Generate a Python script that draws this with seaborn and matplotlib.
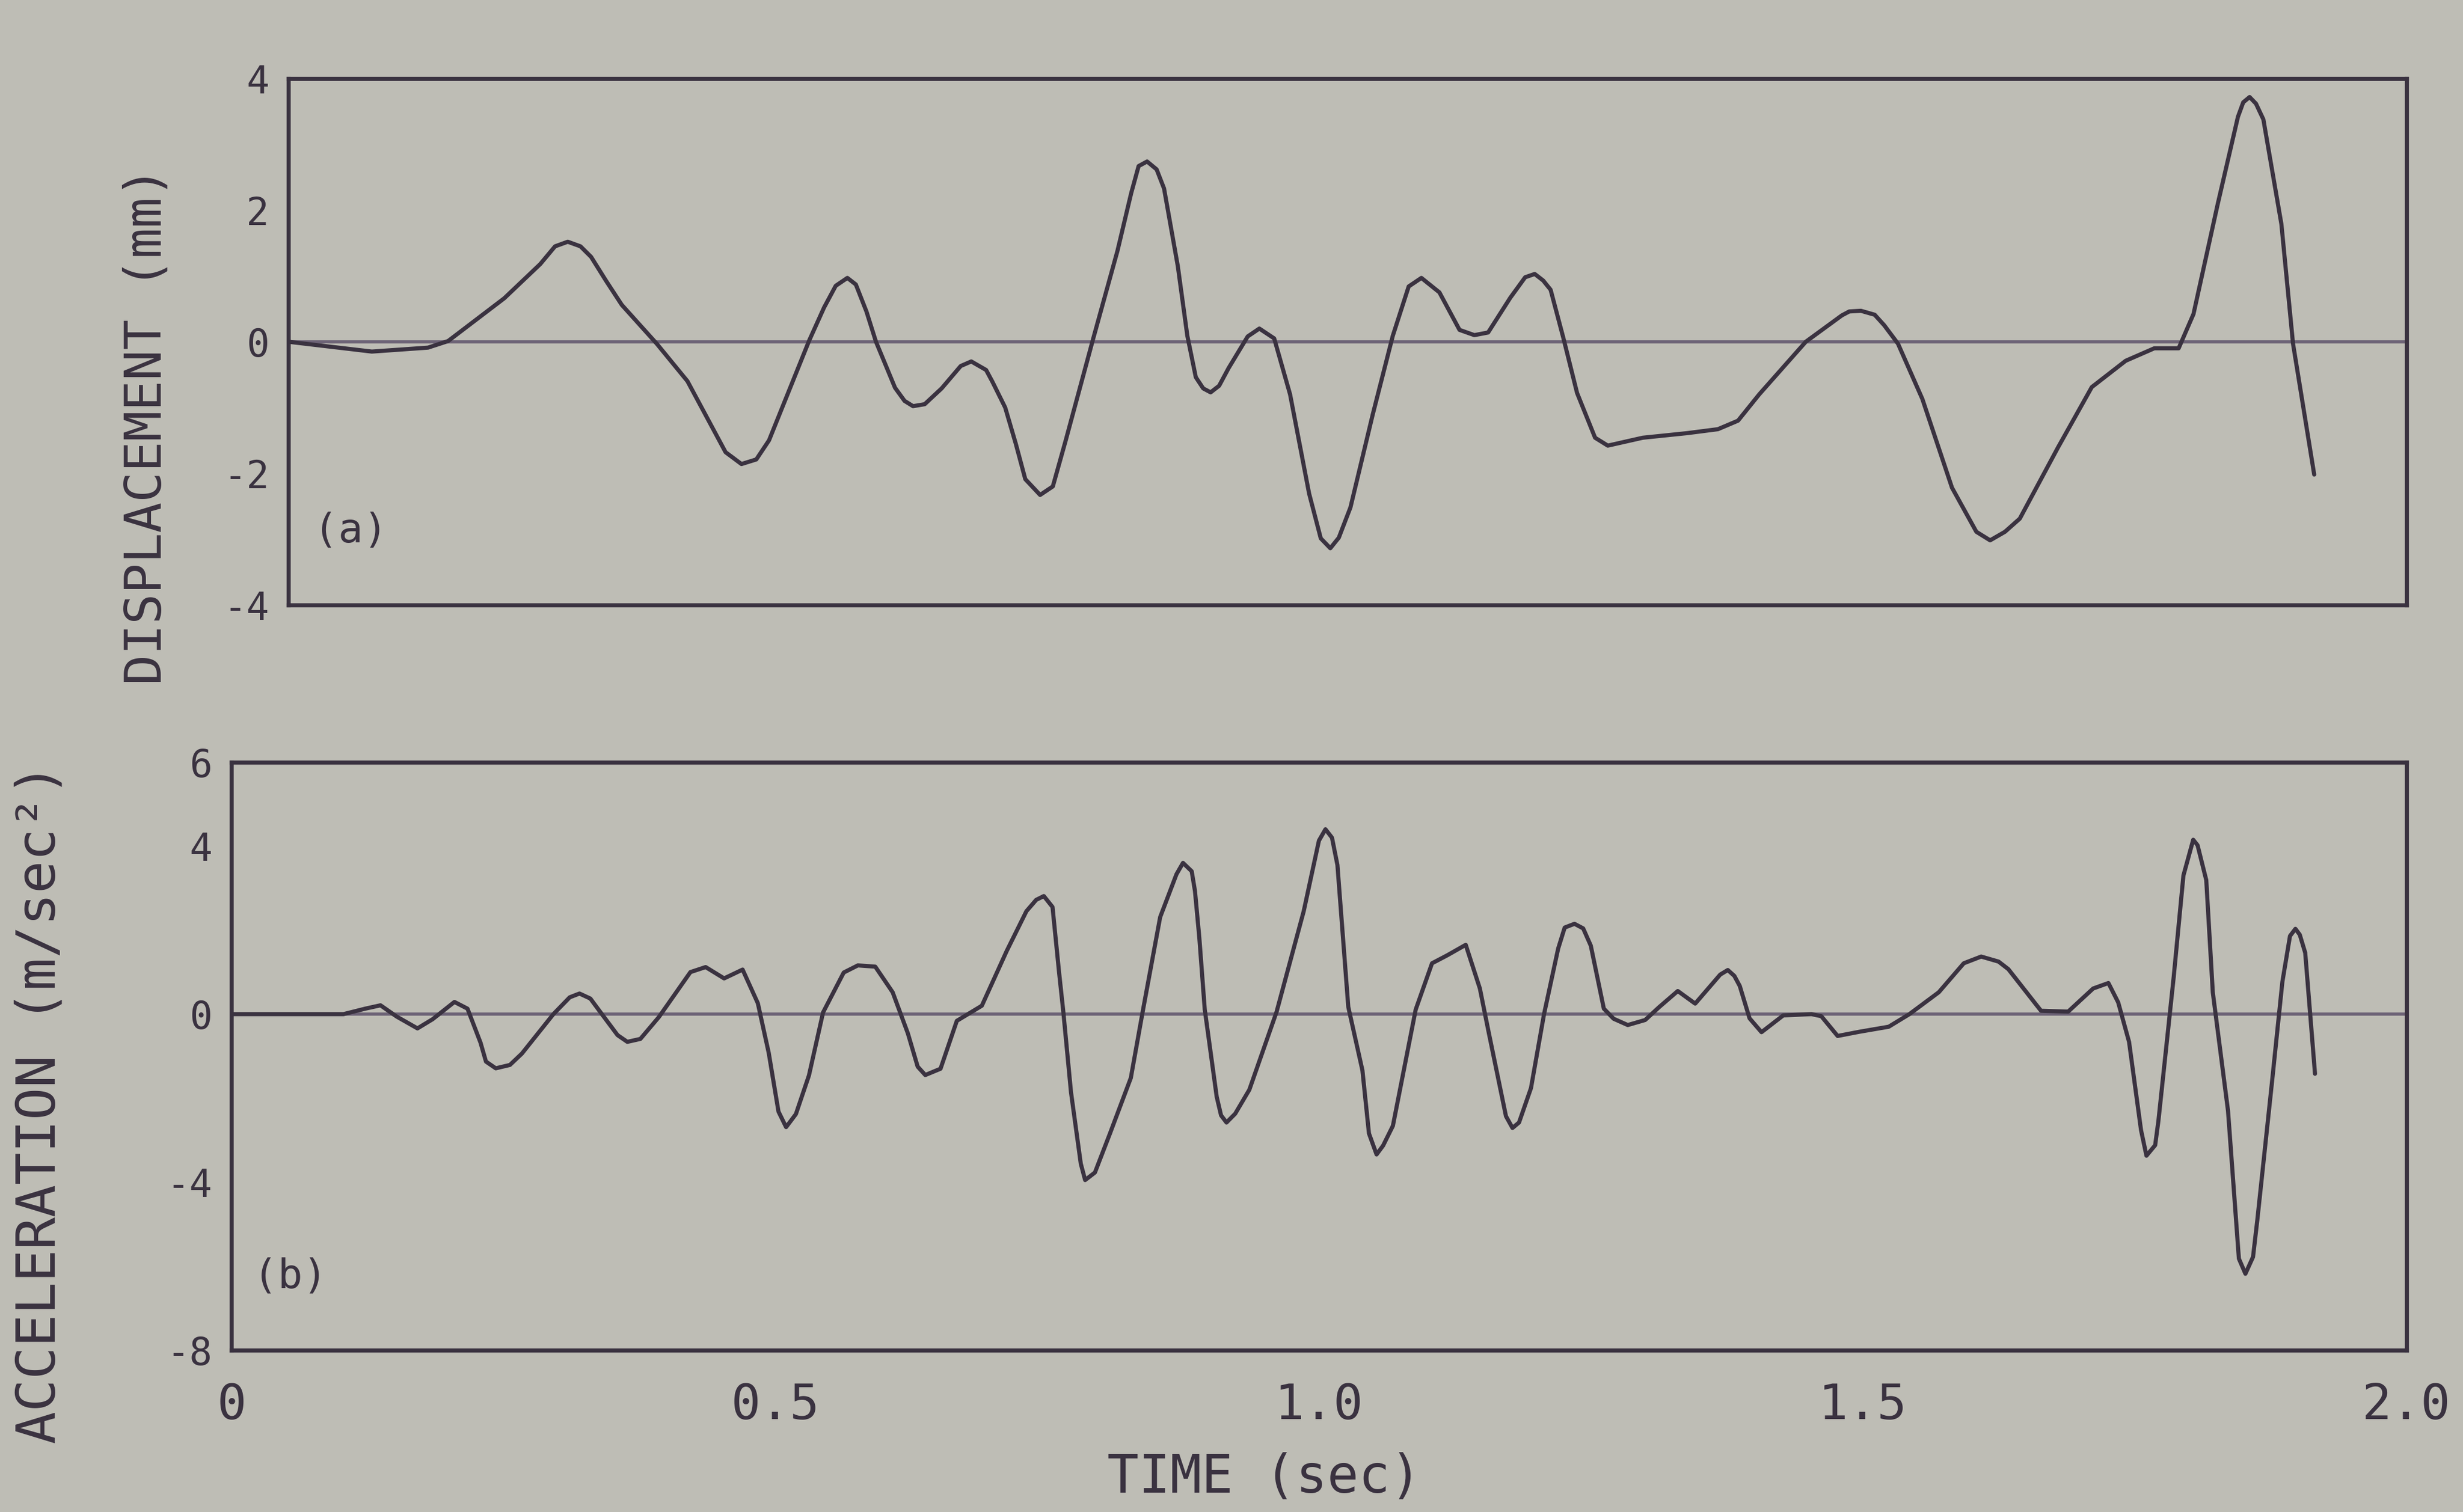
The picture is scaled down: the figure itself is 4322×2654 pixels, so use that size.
import numpy as np
import pandas as pd
import matplotlib
matplotlib.use("Agg")
import matplotlib.pyplot as plt
import seaborn as sns

# displacement trace (a), time in sec, displacement in mm
t_disp = [0.000, 0.079, 0.132, 0.151, 0.204, 0.238, 0.252, 0.264, 0.276, 0.286,
          0.300, 0.315, 0.348, 0.377, 0.401, 0.413, 0.428, 0.442, 0.454, 0.492,
          0.506, 0.517, 0.528, 0.536, 0.546, 0.555, 0.573, 0.582, 0.590, 0.601,
          0.617, 0.635, 0.645, 0.659, 0.665, 0.677, 0.687, 0.696, 0.710, 0.722,
          0.734, 0.760, 0.783, 0.796, 0.803, 0.811, 0.820, 0.827, 0.840, 0.849,
          0.857, 0.864, 0.871, 0.879, 0.888, 0.906, 0.917, 0.931, 0.946, 0.964,
          0.975, 0.984, 0.992, 1.003, 1.024, 1.043, 1.058, 1.070, 1.087, 1.106,
          1.120, 1.133, 1.154, 1.168, 1.177, 1.185, 1.192, 1.204, 1.217, 1.234,
          1.246, 1.279, 1.321, 1.350, 1.369, 1.389, 1.433, 1.467, 1.474, 1.485,
          1.498, 1.507, 1.520, 1.543, 1.571, 1.594, 1.607, 1.621, 1.635, 1.671,
          1.703, 1.735, 1.762, 1.785, 1.799, 1.822, 1.841, 1.846, 1.852, 1.858,
          1.865, 1.882, 1.893, 1.913]
displacement = [0.00, -0.15, -0.09, 0.01, 0.66, 1.18, 1.45, 1.52, 1.45, 1.29,
                0.93, 0.56, -0.03, -0.60, -1.32, -1.68, -1.86, -1.79, -1.50, 0.02,
                0.52, 0.85, 0.97, 0.87, 0.46, 0.00, -0.70, -0.90, -0.98, -0.95,
                -0.71, -0.37, -0.30, -0.43, -0.61, -1.00, -1.55, -2.09, -2.33, -2.20,
                -1.51, 0.04, 1.38, 2.26, 2.67, 2.74, 2.62, 2.33, 1.15, 0.09,
                -0.54, -0.71, -0.77, -0.67, -0.40, 0.08, 0.20, 0.05, -0.80, -2.31,
                -2.99, -3.14, -2.98, -2.52, -1.11, 0.09, 0.84, 0.97, 0.75, 0.18,
                0.10, 0.14, 0.67, 0.98, 1.03, 0.93, 0.79, 0.06, -0.78, -1.46,
                -1.58, -1.46, -1.39, -1.33, -1.20, -0.80, 0.00, 0.40, 0.46, 0.47,
                0.41, 0.25, -0.03, -0.87, -2.22, -2.89, -3.02, -2.89, -2.69, -1.61,
                -0.69, -0.29, -0.10, -0.10, 0.42, 2.10, 3.42, 3.64, 3.72, 3.62,
                3.38, 1.79, -0.03, -2.02]

# acceleration trace (b), time in sec, acceleration in m/sec^2
t_acc = [0.000, 0.103, 0.123, 0.137, 0.152, 0.171, 0.185, 0.205, 0.217, 0.229,
         0.234, 0.243, 0.256, 0.267, 0.296, 0.311, 0.320, 0.330, 0.340, 0.355,
         0.364, 0.376, 0.393, 0.422, 0.436, 0.453, 0.470, 0.484, 0.494, 0.503,
         0.510, 0.519, 0.531, 0.544, 0.563, 0.576, 0.592, 0.608, 0.622, 0.631,
         0.638, 0.652, 0.667, 0.690, 0.713, 0.731, 0.740, 0.747, 0.755, 0.761,
         0.765, 0.772, 0.781, 0.785, 0.794, 0.808, 0.827, 0.838, 0.854, 0.869,
         0.875, 0.883, 0.886, 0.890, 0.895, 0.906, 0.910, 0.915, 0.923, 0.936,
         0.961, 0.986, 1.000, 1.006, 1.012, 1.017, 1.027, 1.040, 1.046, 1.053,
         1.059, 1.068, 1.089, 1.104, 1.118, 1.135, 1.148, 1.156, 1.172, 1.178,
         1.184, 1.195, 1.207, 1.220, 1.226, 1.235, 1.243, 1.250, 1.262, 1.271,
         1.284, 1.300, 1.313, 1.330, 1.346, 1.369, 1.376, 1.382, 1.387, 1.396,
         1.407, 1.427, 1.453, 1.462, 1.477, 1.497, 1.524, 1.543, 1.570, 1.593,
         1.609, 1.625, 1.634, 1.664, 1.689, 1.712, 1.726, 1.735, 1.745, 1.756,
         1.761, 1.769, 1.772, 1.786, 1.795, 1.804, 1.808, 1.816, 1.822, 1.836,
         1.846, 1.852, 1.859, 1.863, 1.877, 1.886, 1.893, 1.898, 1.902, 1.907,
         1.916]
acceleration = [0.00, 0.00, 0.13, 0.21, -0.06, -0.34, -0.12, 0.29, 0.13, -0.68,
                -1.13, -1.29, -1.21, -0.94, 0.00, 0.40, 0.49, 0.37, 0.02, -0.50,
                -0.66, -0.59, -0.07, 1.00, 1.12, 0.85, 1.06, 0.26, -0.92, -2.32,
                -2.69, -2.38, -1.46, 0.04, 0.99, 1.16, 1.13, 0.52, -0.46, -1.25,
                -1.45, -1.30, -0.16, 0.20, 1.51, 2.45, 2.72, 2.81, 2.55, 1.00,
                0.04, -1.86, -3.56, -3.95, -3.77, -2.83, -1.52, 0.07, 2.31, 3.33,
                3.60, 3.40, 2.93, 1.82, 0.11, -1.97, -2.41, -2.58, -2.37, -1.80,
                0.05, 2.45, 4.13, 4.40, 4.20, 3.55, 0.17, -1.34, -2.84, -3.34,
                -3.13, -2.66, 0.11, 1.21, 1.40, 1.65, 0.61, -0.42, -2.43, -2.71,
                -2.58, -1.76, 0.00, 1.56, 2.06, 2.15, 2.04, 1.63, 0.13, -0.11,
                -0.26, -0.14, 0.17, 0.55, 0.25, 0.94, 1.05, 0.91, 0.67, -0.10,
                -0.43, -0.03, 0.00, -0.05, -0.52, -0.42, -0.30, 0.00, 0.52, 1.21,
                1.37, 1.25, 1.07, 0.08, 0.06, 0.61, 0.74, 0.28, -0.66, -2.76,
                -3.37, -3.12, -2.54, 0.87, 3.30, 4.15, 4.02, 3.19, 0.52, -2.30,
                -5.82, -6.18, -5.78, -4.89, -1.48, 0.77, 1.86, 2.03, 1.89, 1.46,
                -1.42]

x_ticks = [0, 0.5, 1.0, 1.5, 2.0]
x_tick_labels = ["0", "0.5", "1.0", "1.5", "2.0"]
disp_ticks = [-4, -2, 0, 2, 4]
disp_tick_labels = ["-4", "-2", "0", "2", "4"]
acc_ticks = [-8, -4, 0, 4, 6]
acc_tick_labels = ["-8", "-4", "0", "4", "6"]

paper = "#bebdb5"
ink = "#3a3240"
zero_ink = "#6c6276"

sns.set_theme(style="white")
plt.rcParams['font.family'] = ['DejaVu Sans Mono', 'DejaVu Sans']
plt.rcParams['text.color'] = ink
plt.rcParams['xtick.color'] = ink
plt.rcParams['ytick.color'] = ink

fig = plt.figure(figsize=(21.61, 13.27), dpi=200, facecolor=paper)
ax1 = fig.add_axes([0.117, 0.600, 0.860, 0.348])
ax2 = fig.add_axes([0.094, 0.107, 0.883, 0.389])

df_a = pd.DataFrame({"time": t_disp, "value": displacement})
df_b = pd.DataFrame({"time": t_acc, "value": acceleration})

for ax, df, ticks, labels, lim in [
    (ax1, df_a, disp_ticks, disp_tick_labels, (-4, 4)),
    (ax2, df_b, acc_ticks, acc_tick_labels, (-8, 6)),
]:
    ax.set_facecolor(paper)
    ax.axhline(0, color=zero_ink, lw=2.0, zorder=1)
    sns.lineplot(data=df, x="time", y="value", ax=ax, color=ink, lw=2.6,
                 estimator=None, sort=False, zorder=2)
    ax.set_xlim(0, 2.0)
    ax.set_ylim(*lim)
    ax.set_yticks(ticks)
    ax.set_yticklabels(labels, fontsize=24)
    ax.set_xticks(x_ticks)
    ax.tick_params(axis="both", direction="in", length=10, width=2.2,
                   color=ink, pad=12)
    for sp in ax.spines.values():
        sp.set_color(ink)
        sp.set_linewidth(2.6)
    ax.set_xlabel("")
    ax.set_ylabel("")

ax1.set_xticklabels([])
ax2.set_xticklabels(x_tick_labels, fontsize=31)
ax2.tick_params(axis="x", pad=20)

ax1.set_ylabel("DISPLACEMENT (mm)", fontsize=32, color=ink)
ax1.yaxis.set_label_coords(-0.055, 0.34)
ax2.set_ylabel("ACCELERATION (m/sec²)", fontsize=34, color=ink)
ax2.yaxis.set_label_coords(-0.076, 0.42)
ax2.set_xlabel("TIME (sec)", fontsize=33, color=ink, va="top")
ax2.xaxis.set_label_coords(0.475, -0.173)

ax1.text(0.012, 0.14, "(a)", transform=ax1.transAxes, fontsize=26,
         color=ink, ha="left", va="center")
ax2.text(0.010, 0.125, "(b)", transform=ax2.transAxes, fontsize=26,
         color=ink, ha="left", va="center")

fig.savefig("out.png", dpi=200, facecolor=paper)
